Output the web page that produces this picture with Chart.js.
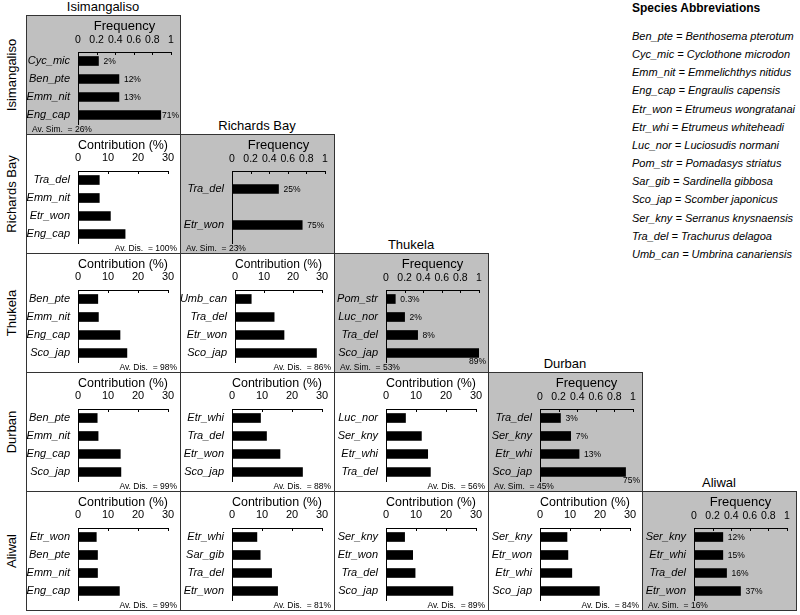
<!DOCTYPE html>
<html>
<head>
<meta charset="utf-8">
<script src="https://cdn.jsdelivr.net/npm/chart.js@4.4.1/dist/chart.umd.min.js"></script>
<style>
  body { margin: 0; background: #fff; font-family: Arial, "Liberation Sans", sans-serif; }
  #wrap { position: relative; width: 800px; height: 615px; overflow: hidden; }
  .panel { position: absolute; box-sizing: border-box; border: 1px solid #333; }
  .panel.diag { background: #c0c0c0; }
  canvas { position: absolute; }
  .colTitle { position: absolute; font-size: 13px; text-align: center; width: 154px; line-height: 16px; }
  .rowTitle { position: absolute; font-size: 13px; white-space: nowrap; transform: translate(-50%, -50%) rotate(-90deg); line-height: 16px; }
  #legend { position: absolute; left: 632px; top: 0; }
  #legend h4 { margin: 0; font-size: 12px; font-weight: bold; line-height: 16px; }
  #legend div { font-size: 11px; font-style: italic; line-height: 18.15px; white-space: nowrap; }
</style>
</head>
<body>
<div id="wrap"></div>
<script>
const sites = ["Isimangaliso", "Richards Bay", "Thukela", "Durban", "Aliwal"];

// within-site frequency (diagonal panels)
const isiSpecies = ["Cyc_mic", "Ben_pte", "Emm_nit", "Eng_cap"];
const isiFreq = [0.22, 0.44, 0.44, 0.89];
const isiPct = ["2%", "12%", "13%", "71%"];

const rbSpecies = ["Tra_del", "Etr_won"];
const rbFreq = [0.5, 0.755];
const rbPct = ["25%", "75%"];

const thuSpecies = ["Pom_str", "Luc_nor", "Tra_del", "Sco_jap"];
const thuFreq = [0.1, 0.2, 0.34, 1.0];
const thuPct = ["0.3%", "2%", "8%", "89%"];

const durSpecies = ["Tra_del", "Ser_kny", "Etr_whi", "Sco_jap"];
const durFreq = [0.22, 0.33, 0.42, 0.92];
const durPct = ["3%", "7%", "13%", "75%"];

const aliSpecies = ["Ser_kny", "Etr_whi", "Tra_del", "Etr_won"];
const aliFreq = [0.31, 0.31, 0.35, 0.5];
const aliPct = ["12%", "15%", "16%", "37%"];

const avSim = [26, 23, 53, 45, 16];

// between-site contribution (lower panels)
const rbIsiSpecies = ["Tra_del", "Emm_nit", "Etr_won", "Eng_cap"];
const rbIsiContrib = [7.1, 7.1, 10.8, 15.7];

const thuIsiSpecies = ["Ben_pte", "Emm_nit", "Eng_cap", "Sco_jap"];
const thuIsiContrib = [6.6, 6.8, 14.0, 16.3];
const thuRbSpecies = ["Umb_can", "Tra_del", "Etr_won", "Sco_jap"];
const thuRbContrib = [5.6, 13.5, 16.9, 28.1];

const durIsiSpecies = ["Ben_pte", "Emm_nit", "Eng_cap", "Sco_jap"];
const durIsiContrib = [6.4, 6.7, 14.1, 14.3];
const durRbSpecies = ["Etr_whi", "Tra_del", "Etr_won", "Sco_jap"];
const durRbContrib = [9.5, 11.5, 16.0, 23.5];
const durThuSpecies = ["Luc_nor", "Ser_kny", "Etr_whi", "Tra_del"];
const durThuContrib = [6.5, 11.8, 13.9, 14.8];

const aliIsiSpecies = ["Etr_won", "Ben_pte", "Emm_nit", "Eng_cap"];
const aliIsiContrib = [6.1, 6.5, 6.5, 13.8];
const aliRbSpecies = ["Etr_whi", "Sar_gib", "Tra_del", "Etr_won"];
const aliRbContrib = [8.3, 9.4, 13.2, 15.2];
const aliThuSpecies = ["Ser_kny", "Etr_won", "Tra_del", "Sco_jap"];
const aliThuContrib = [6.2, 8.9, 9.7, 22.3];
const aliDurSpecies = ["Ser_kny", "Etr_won", "Etr_whi", "Sco_jap"];
const aliDurContrib = [9.0, 9.3, 10.6, 19.8];

// average dissimilarity, one array per row
const avDisRb = [100];
const avDisThu = [98, 86];
const avDisDur = [99, 88, 56];
const avDisAli = [99, 81, 89, 84];

const legendItems = [
  "Ben_pte = Benthosema pterotum",
  "Cyc_mic = Cyclothone microdon",
  "Emm_nit = Emmelichthys nitidus",
  "Eng_cap = Engraulis capensis",
  "Etr_won = Etrumeus wongratanai",
  "Etr_whi = Etrumeus whiteheadi",
  "Luc_nor = Luciosudis normani",
  "Pom_str = Pomadasys striatus",
  "Sar_gib = Sardinella gibbosa",
  "Sco_jap = Scomber japonicus",
  "Ser_kny = Serranus knysnaensis",
  "Tra_del = Trachurus delagoa",
  "Umb_can = Umbrina canariensis"
];

const panels = [
  { r: 0, c: 0, labels: isiSpecies, values: isiFreq, pct: isiPct, note: avSim[0] },
  { r: 1, c: 0, labels: rbIsiSpecies, values: rbIsiContrib, note: avDisRb[0] },
  { r: 1, c: 1, labels: rbSpecies, values: rbFreq, pct: rbPct, note: avSim[1] },
  { r: 2, c: 0, labels: thuIsiSpecies, values: thuIsiContrib, note: avDisThu[0] },
  { r: 2, c: 1, labels: thuRbSpecies, values: thuRbContrib, note: avDisThu[1] },
  { r: 2, c: 2, labels: thuSpecies, values: thuFreq, pct: thuPct, note: avSim[2] },
  { r: 3, c: 0, labels: durIsiSpecies, values: durIsiContrib, note: avDisDur[0] },
  { r: 3, c: 1, labels: durRbSpecies, values: durRbContrib, note: avDisDur[1] },
  { r: 3, c: 2, labels: durThuSpecies, values: durThuContrib, note: avDisDur[2] },
  { r: 3, c: 3, labels: durSpecies, values: durFreq, pct: durPct, note: avSim[3] },
  { r: 4, c: 0, labels: aliIsiSpecies, values: aliIsiContrib, note: avDisAli[0] },
  { r: 4, c: 1, labels: aliRbSpecies, values: aliRbContrib, note: avDisAli[1] },
  { r: 4, c: 2, labels: aliThuSpecies, values: aliThuContrib, note: avDisAli[2] },
  { r: 4, c: 3, labels: aliDurSpecies, values: aliDurContrib, note: avDisAli[3] },
  { r: 4, c: 4, labels: aliSpecies, values: aliFreq, pct: aliPct, note: avSim[4] }
];

const FONT = 'Arial, "Liberation Sans", sans-serif';
Chart.defaults.font.family = FONT;
Chart.defaults.color = "#000";

const W = 154, H = 119;
const colX = c => 26 + c * W;
const rowY = r => 15 + r * H;
const wrap = document.getElementById("wrap");

function addDiv(cls, css, text) {
  const d = document.createElement("div");
  d.className = cls;
  Object.assign(d.style, css);
  if (text) d.textContent = text;
  wrap.appendChild(d);
  return d;
}

// titles
sites.forEach((s, i) => {
  addDiv("colTitle", { left: colX(i) + "px", top: (rowY(i) - 16) + "px" }, s);
  addDiv("rowTitle", { left: "12px", top: (rowY(i) + H / 2) + "px" }, s);
});

// legend
const legend = addDiv("", {});
legend.id = "legend";
const lh = document.createElement("h4");
lh.textContent = "Species Abbreviations";
legend.appendChild(lh);
const gap = document.createElement("div");
gap.style.height = "11px";
legend.appendChild(gap);
legendItems.forEach(t => {
  const d = document.createElement("div");
  d.textContent = t;
  legend.appendChild(d);
});

function panelPlugin(p, isFreq) {
  return {
    id: "panelExtras",
    afterDraw(chart) {
      const ctx = chart.ctx;
      const area = chart.chartArea;
      const xs = chart.scales.x;
      ctx.save();
      // tick marks pointing into the plot
      ctx.strokeStyle = "#000";
      ctx.lineWidth = 1;
      xs.ticks.forEach(t => {
        const px = Math.round(xs.getPixelForValue(t.value)) + 0.5;
        ctx.beginPath();
        ctx.moveTo(px, area.top);
        ctx.lineTo(px, area.top + 3);
        ctx.stroke();
      });
      ctx.font = "8.5px " + FONT;
      ctx.fillStyle = "#000";
      ctx.textBaseline = "middle";
      if (p.pct) {
        const meta = chart.getDatasetMeta(0);
        meta.data.forEach((el, i) => {
          const txt = p.pct[i];
          const w = ctx.measureText(txt).width;
          if (el.x + 1 + w > W - 1) {
            ctx.textAlign = "right";
            ctx.fillText(txt, W - 2, el.y + 9);
          } else {
            ctx.textAlign = "left";
            ctx.fillText(txt, Math.min(el.x + 5, W - 1 - w), el.y + 1);
          }
        });
      }
      if (isFreq) {
        ctx.textAlign = "left";
        ctx.fillText("Av. Sim.  = " + p.note + "%", 6, H - 4);
      } else {
        ctx.textAlign = "right";
        ctx.fillText("Av. Dis.  = " + p.note + "%", W - 3, H - 4);
      }
      ctx.restore();
    }
  };
}

panels.forEach(p => {
  const isFreq = p.r === p.c;
  const x = colX(p.c), y = rowY(p.r);
  const yWidth = p.labels.includes("Umb_can") ? 55 : 52;
  addDiv("panel" + (isFreq ? " diag" : ""), {
    left: x + "px", top: y + "px", width: (W + 1) + "px", height: (H + 1) + "px"
  });
  const cv = document.createElement("canvas");
  cv.width = W;
  cv.height = H;
  cv.style.left = x + "px";
  cv.style.top = y + "px";
  cv.style.width = W + "px";
  cv.style.height = H + "px";
  wrap.appendChild(cv);

  new Chart(cv, {
    type: "bar",
    data: {
      labels: p.labels,
      datasets: [{
        data: p.values,
        backgroundColor: "#000",
        borderWidth: 0,
        barThickness: 9
      }]
    },
    options: {
      indexAxis: "y",
      responsive: false,
      animation: false,
      devicePixelRatio: 1,
      layout: { padding: { top: 0, right: isFreq ? 9 : 12, bottom: 10, left: 0 } },
      plugins: { legend: { display: false }, tooltip: { enabled: false } },
      scales: {
        x: {
          position: "top",
          min: 0,
          max: isFreq ? 1 : 30,
          ticks: {
            stepSize: isFreq ? 0.2 : 10,
            autoSkip: false,
            maxRotation: 0,
            padding: 6,
            color: "#000",
            font: { size: isFreq ? 10.5 : 11 },
            callback: v => String(Math.round(v * 10) / 10)
          },
          grid: { drawOnChartArea: false, drawTicks: false },
          border: { color: "#000", width: 1 },
          title: {
            display: true,
            text: isFreq ? "Frequency" : "Contribution (%)",
            color: "#000",
            font: { size: 13 },
            padding: { top: 4, bottom: 0 }
          },
          afterFit: s => {
            s.height = 37;
            s.paddingLeft = 0;
            s.paddingRight = 0;
          }
        },
        y: {
          ticks: {
            padding: 8,
            color: "#000",
            font: { size: 11, style: "italic" }
          },
          grid: { drawOnChartArea: false, drawTicks: false },
          border: { color: "#000", width: 1 },
          afterFit: s => {
            s.width = yWidth;
            s.paddingTop = 0;
            s.paddingBottom = 0;
          }
        }
      }
    },
    plugins: [panelPlugin(p, isFreq)]
  });
});
</script>
</body>
</html>
